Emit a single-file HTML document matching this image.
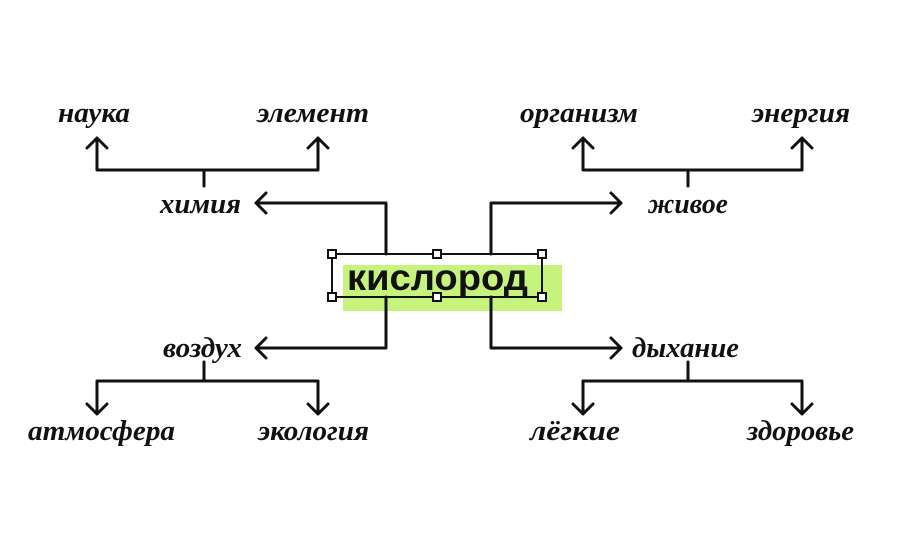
<!DOCTYPE html>
<html><head><meta charset="utf-8"><style>
body{margin:0;width:900px;height:552px;background:#fff;overflow:hidden}
svg{display:block}
.l{font-family:"Liberation Serif","DejaVu Serif",serif;font-style:italic;font-weight:bold;font-size:28px;fill:#111}
</style></head><body>
<svg width="900" height="552" viewBox="0 0 900 552">
<rect x="343" y="265" width="219" height="46" fill="#c6f27e"/>
<g fill="none" stroke="#111" stroke-width="3" stroke-linejoin="round" stroke-linecap="round">
<path d="M386 254V203H256M266 193l-10 10 10 10"/>
<path d="M386 297V348H256M266 338l-10 10 10 10"/>
<path d="M491 254V203H621M611 193l10 10-10 10"/>
<path d="M491 297V348H621M611 338l10 10-10 10"/>
<path d="M204 186V170M97 138V170H318V138M87 148l10-10 10 10M308 148l10-10 10 10"/>
<path d="M688 186V170M583 138V170H802V138M573 148l10-10 10 10M792 148l10-10 10 10"/>
<path d="M204 362V381M97 414V381H318V414M87 404l10 10 10-10M308 404l10 10 10-10"/>
<path d="M688 362V381M583 414V381H802V414M573 404l10 10 10-10M792 404l10 10 10-10"/>
</g>
<rect x="332" y="254" width="210" height="43" fill="none" stroke="#111" stroke-width="2"/>
<g fill="#fff" stroke="#111" stroke-width="2">
<rect x="328" y="250" width="8" height="8"/><rect x="433" y="250" width="8" height="8"/><rect x="538" y="250" width="8" height="8"/>
<rect x="328" y="293" width="8" height="8"/><rect x="433" y="293" width="8" height="8"/><rect x="538" y="293" width="8" height="8"/>
</g>
<text x="347" y="290" textLength="181" lengthAdjust="spacingAndGlyphs" font-family="Liberation Sans,Arial,sans-serif" font-weight="bold" font-size="37" fill="#111">кислород</text>
<g class="l" lengthAdjust="spacingAndGlyphs">
<text x="160" y="213" textLength="81" lengthAdjust="spacingAndGlyphs">химия</text>
<text x="58" y="122" textLength="72" lengthAdjust="spacingAndGlyphs">наука</text>
<text x="257" y="122" textLength="112" lengthAdjust="spacingAndGlyphs">элемент</text>
<text x="648" y="213" textLength="80" lengthAdjust="spacingAndGlyphs">живое</text>
<text x="520" y="122" textLength="118" lengthAdjust="spacingAndGlyphs">организм</text>
<text x="752" y="122" textLength="98" lengthAdjust="spacingAndGlyphs">энергия</text>
<text x="163" y="357" textLength="79" lengthAdjust="spacingAndGlyphs">воздух</text>
<text x="28" y="440" textLength="147" lengthAdjust="spacingAndGlyphs">атмосфера</text>
<text x="258" y="440" textLength="111" lengthAdjust="spacingAndGlyphs">экология</text>
<text x="632" y="357" textLength="107" lengthAdjust="spacingAndGlyphs">дыхание</text>
<text x="530" y="440" textLength="90" lengthAdjust="spacingAndGlyphs">лёгкие</text>
<text x="747" y="440" textLength="107" lengthAdjust="spacingAndGlyphs">здоровье</text>
</g>
</svg>
</body></html>
